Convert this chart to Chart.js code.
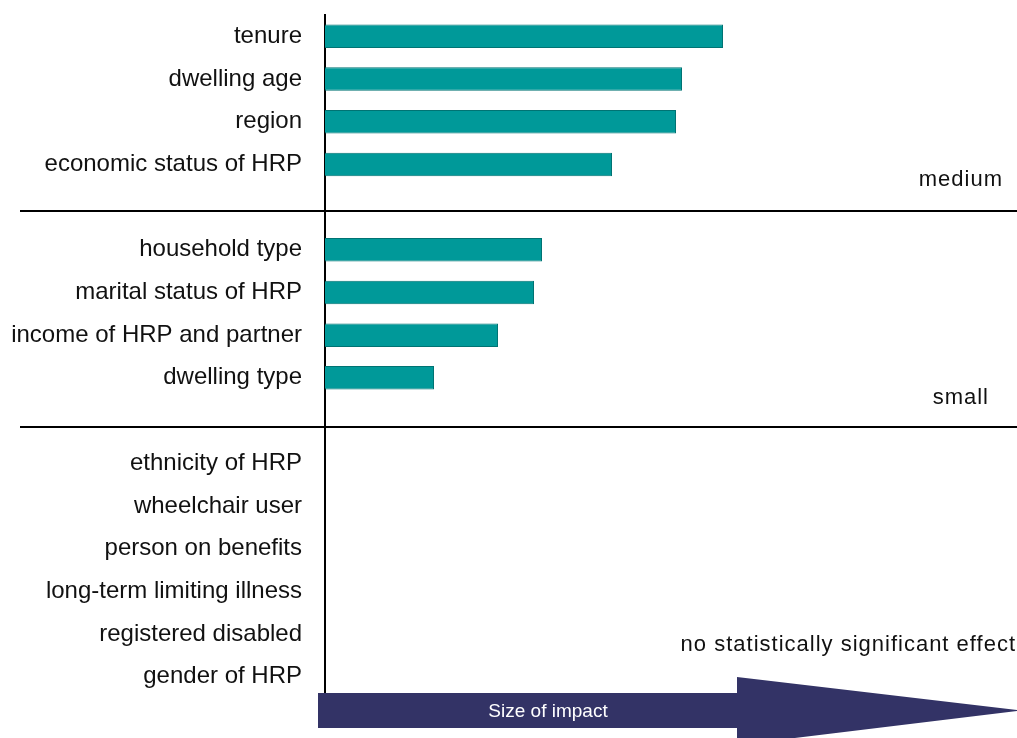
<!DOCTYPE html>
<head>
    <title>Size of impact</title>
    <script src="https://cdn.jsdelivr.net/npm/chart.js"></script>
    <style>
        body { margin: 0; background: white; }
        #wykres { width: 1017px; height: 738px; }
    </style>
</head>
<body>
<div id="wykres">
    <canvas id="impactChart" width="1017" height="738"></canvas>
</div>
<script>
// kategorie (puste '' = przerwa miedzy grupami)
const categories = ['tenure', 'dwelling age', 'region', 'economic status of HRP', '',
    'household type', 'marital status of HRP', 'income of HRP and partner', 'dwelling type', '',
    'ethnicity of HRP', 'wheelchair user', 'person on benefits', 'long-term limiting illness',
    'registered disabled', 'gender of HRP'];
const impact = [398, 357, 351, 287, null, 217, 209, 173, 109, null,
    null, null, null, null, null, null];
const groupLabels = ['medium', 'small', 'no statistically significant effect'];
const arrowLabel = 'Size of impact';

const fontName = "'Liberation Sans', Arial, sans-serif";

// linie, opisy grup i strzalka na dole
const extras = {
    id: 'extras',
    afterDraw(chart) {
        const ctx = chart.ctx;
        const y = chart.scales.y;
        const area = chart.chartArea;
        ctx.save();

        ctx.strokeStyle = '#000';
        ctx.lineWidth = 2;
        [4.1, 9.15].forEach(i => {
            const py = Math.round(y.getPixelForValue(i));
            ctx.beginPath();
            ctx.moveTo(20, py);
            ctx.lineTo(chart.width, py);
            ctx.stroke();
        });

        ctx.fillStyle = '#111';
        ctx.font = '22px ' + fontName;
        ctx.letterSpacing = '1px';
        ctx.textAlign = 'right';
        ctx.textBaseline = 'middle';
        ctx.fillText(groupLabels[0], 1003, y.getPixelForValue(3.37));
        ctx.fillText(groupLabels[1], 989, y.getPixelForValue(8.48));
        ctx.fillText(groupLabels[2], 1016, y.getPixelForValue(14.25));

        // strzalka
        const top = area.bottom - 5;
        const bot = area.bottom + 30;
        const mid = (top + bot) / 2;
        ctx.fillStyle = '#333366';
        ctx.beginPath();
        ctx.moveTo(area.left - 7, top);
        ctx.lineTo(737, top);
        ctx.lineTo(737, top - 16);
        ctx.lineTo(1022, mid);
        ctx.lineTo(737, bot + 17);
        ctx.lineTo(737, bot);
        ctx.lineTo(area.left - 7, bot);
        ctx.closePath();
        ctx.fill();

        ctx.fillStyle = '#fff';
        ctx.letterSpacing = '0px';
        ctx.font = '19px ' + fontName;
        ctx.textAlign = 'center';
        ctx.fillText(arrowLabel, 548, mid + 1);
        ctx.restore();
    }
};

new Chart(document.getElementById('impactChart'), {
    type: 'bar',
    data: {
        labels: categories,
        datasets: [{
            data: impact,
            backgroundColor: '#009999',
            borderColor: '#007373',
            borderWidth: 1,
            borderSkipped: 'start',
            barPercentage: 0.55,
            categoryPercentage: 1
        }]
    },
    options: {
        indexAxis: 'y',
        responsive: false,
        animation: false,
        layout: { padding: { top: 15, bottom: 40, left: 0, right: 0 } },
        plugins: {
            legend: { display: false },
            tooltip: { enabled: false }
        },
        scales: {
            x: {
                display: false,
                min: 0,
                max: 692
            },
            y: {
                afterFit(scale) {
                    scale.width = 325;
                    scale.paddingTop = 0;
                    scale.paddingBottom = 0;
                },
                grid: { display: false, drawTicks: false },
                border: { display: true, color: '#000', width: 2 },
                ticks: {
                    color: '#111',
                    padding: 23,
                    font: { family: fontName, size: 24 }
                }
            }
        }
    },
    plugins: [extras]
});
</script>
</body>
